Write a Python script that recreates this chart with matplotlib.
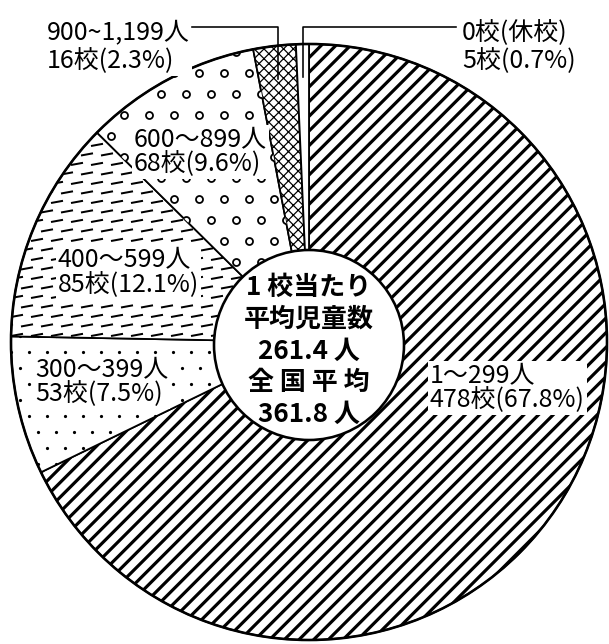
import numpy as np
import matplotlib
matplotlib.use("Agg")
import matplotlib.pyplot as plt
from matplotlib.patches import Circle
from matplotlib.collections import LineCollection

plt.rcParams['font.family'] = ['Noto Sans CJK JP', 'DejaVu Sans']
plt.rcParams['hatch.color'] = 'black'
plt.rcParams['hatch.linewidth'] = 2.0

# 児童数規模別の学校数
ranges = ["1～299人", "300～399人", "400～599人", "600～899人", "900~1,199人", "0校(休校)"]
schools = [478, 53, 85, 68, 16, 5]
shares = [67.8, 7.5, 12.1, 9.6, 2.3, 0.7]
avg_pupils = 261.4
national_avg = 361.8

W, H, DPI = 609, 644, 88
def pt(px):
    return px * 72 / DPI
def Y(y):
    return H - y

fig = plt.figure(figsize=(W / DPI, H / DPI), dpi=DPI)
ax = fig.add_axes([0, 0, 1, 1])

CX, CY, R = 309, Y(342), 298
hatches = ['//', None, None, None, 'xxx', None]
hatch_lw = [2.6, 1, 1, 1, 1.0, 1]
wedges, _ = ax.pie(shares, radius=R, center=(CX, CY), startangle=90, counterclock=False,
                   colors=['white'] * 6,
                   wedgeprops=dict(edgecolor='black', linewidth=pt(1.8)))
for w, h, hl in zip(wedges, hatches, hatch_lw):
    if h:
        w.set_hatch(h)
        if hasattr(w, 'set_hatch_linewidth'):
            w.set_hatch_linewidth(hl)
ax.add_patch(Circle((CX, CY), R, fill=False, ec='black', lw=pt(2.6), zorder=3))

# 300～399人: 点の模様
dx, dy = [], []
for k, yy in enumerate(np.arange(CY - R, CY + R, 16)):
    off = 9 * (k % 2)
    for xx in np.arange(CX - R + off, CX + R, 18):
        dx.append(xx)
        dy.append(yy)
dots = ax.scatter(dx, dy, s=pt(3.2) ** 2, color='black', linewidths=0, zorder=2)
dots.set_clip_path(wedges[1])

# 400～599人: 破線の模様
segs = []
for k, yy in enumerate(np.arange(CY - R, CY + R, 9.5)):
    off = 10 * (k % 2)
    for xx in np.arange(CX - R - 20 + off, CX + R, 20):
        segs.append([(xx, yy), (xx + 12, yy + 2.2)])
lc = LineCollection(segs, colors='black', linewidths=pt(2.0), zorder=2)
ax.add_collection(lc)
lc.set_clip_path(wedges[2])

# 600～899人: 白丸の模様
px, py = [], []
for k, yy in enumerate(np.arange(CY - R, CY + R, 21)):
    off = 12.5 * (k % 2)
    for xx in np.arange(CX - R + off, CX + R, 25):
        px.append(xx)
        py.append(yy)
sc = ax.scatter(px, py, s=pt(7) ** 2, facecolors='white', edgecolors='black',
                linewidths=pt(1.8), zorder=2)
sc.set_clip_path(wedges[3])

# 中央の円
ax.add_patch(Circle((CX, Y(345)), 95, fc='white', ec='black', lw=pt(2.6), zorder=4))
center_text = "\n".join(["1 校当たり", "平均児童数", f"{avg_pupils} 人", "全 国 平 均", f"{national_avg} 人"])
ax.text(CX, Y(351), center_text, ha='center', va='center', fontsize=pt(26),
        fontweight='bold', linespacing=1.22, zorder=5)

box = dict(facecolor='white', edgecolor='none', pad=1.5)
fs = pt(25)
second = [f"{n}校({p}%)" for n, p in zip(schools, shares)]
# (x, 中心y, 行間)
label_pos = {0: (430, 388, 0.92), 1: (35, 382, 0.92), 2: (58, 273, 0.94), 3: (134, 152, 0.92),
             4: (47, 47, 1.13), 5: (462, 47, 1.13)}
for i, (x, y, ls) in label_pos.items():
    ax.text(x, Y(y), f"{ranges[i]}\n{second[i]}", ha='left', va='center', fontsize=fs,
            linespacing=ls, bbox=box, zorder=6)

# 引き出し線
for i, xend in [(4, 192), (5, 456)]:
    mid = np.deg2rad((wedges[i].theta1 + wedges[i].theta2) / 2)
    x0 = CX + R * 0.89 * np.cos(mid)
    y0 = CY + R * 0.89 * np.sin(mid)
    ax.plot([x0, x0, xend], [y0, Y(27), Y(27)], color='black', lw=pt(1.6), zorder=6)

ax.set_xlim(0, W)
ax.set_ylim(0, H)
ax.set_aspect('auto')
ax.axis('off')
fig.savefig("out.png", dpi=DPI, facecolor='white')
